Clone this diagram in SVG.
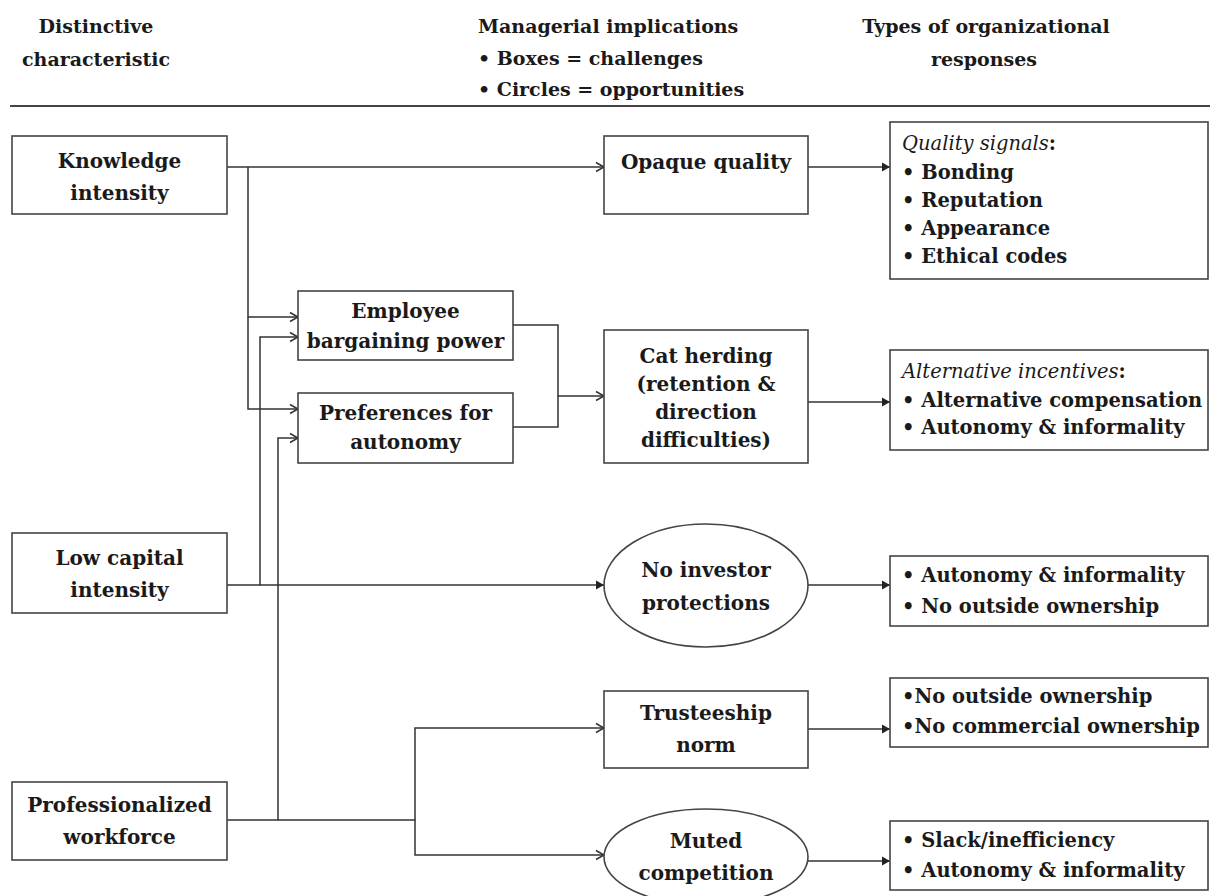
<svg xmlns="http://www.w3.org/2000/svg" width="1214" height="896" viewBox="0 0 1214 896">
<defs>
<style>
text{font-family:"DejaVu Serif","Liberation Serif",serif;font-weight:bold;fill:#1a1a1a;font-size:20px}
.h{font-size:19px}
.r{font-size:19.5px}
.c{text-anchor:middle}
.box{fill:#fff;stroke:#444;stroke-width:1.6}
.conn path{fill:none;stroke:#333;stroke-width:1.5}
.it{font-style:italic;font-weight:normal}
</style>
<marker id="open" markerWidth="12" markerHeight="12" refX="10" refY="6" orient="auto" markerUnits="userSpaceOnUse"><path d="M2,1.5 L10,6 L2,10.5" fill="none" stroke="#333" stroke-width="1.5"/></marker>
<marker id="fill" markerWidth="12" markerHeight="12" refX="10" refY="6" orient="auto" markerUnits="userSpaceOnUse"><path d="M2,1.5 L10,6 L2,10.5 Z" fill="#222"/></marker>
</defs>
<rect width="1214" height="896" fill="#fff"/>
<g id="headers">
<text class="c h" x="96" y="33">Distinctive</text>
<text class="c h" x="96" y="66">characteristic</text>
<text class="h" x="478" y="33">Managerial implications</text>
<text class="h" x="478" y="65">• Boxes = challenges</text>
<text class="h" x="478" y="96">• Circles = opportunities</text>
<text class="c h" x="986" y="33">Types of organizational</text>
<text class="c h" x="984" y="66">responses</text>
<line x1="10" y1="106" x2="1210" y2="106" stroke="#444" stroke-width="2"/>
</g>
<g class="conn" id="connectors">
<path d="M227,167 H604" marker-end="url(#open)"/>
<path d="M248,167 V317 H298" marker-end="url(#open)"/>
<path d="M248,317 V409 H298" marker-end="url(#open)"/>
<path d="M227,585 H260 V337 H298" marker-end="url(#open)"/>
<path d="M260,585 H604" marker-end="url(#fill)"/>
<path d="M227,820 H278 V438 H298" marker-end="url(#open)"/>
<path d="M278,820 H415 V728 H604" marker-end="url(#open)"/>
<path d="M415,820 V855 H604" marker-end="url(#open)"/>
<path d="M513,325 H558 V396 H604" marker-end="url(#open)"/>
<path d="M513,427 H558 V396"/>
<path d="M808,167 H890" marker-end="url(#fill)"/>
<path d="M808,402 H890" marker-end="url(#fill)"/>
<path d="M808,585 H890" marker-end="url(#fill)"/>
<path d="M808,729 H890" marker-end="url(#fill)"/>
<path d="M808,861 H890" marker-end="url(#fill)"/>
</g>
<g id="knowledge">
<rect class="box" x="12" y="136" width="215" height="78"/>
<text class="c" x="119.5" y="168">Knowledge</text>
<text class="c" x="119.5" y="200">intensity</text>
</g>
<g id="lowcapital">
<rect class="box" x="12" y="533" width="215" height="80"/>
<text class="c" x="119.5" y="565">Low capital</text>
<text class="c" x="119.5" y="597">intensity</text>
</g>
<g id="professionalized">
<rect class="box" x="12" y="782" width="215" height="78"/>
<text class="c" x="119.5" y="812">Professionalized</text>
<text class="c" x="119.5" y="844">workforce</text>
</g>
<g id="employee">
<rect class="box" x="298" y="291" width="215" height="69"/>
<text class="c" x="405.5" y="318">Employee</text>
<text class="c" x="405.5" y="348">bargaining power</text>
</g>
<g id="preferences">
<rect class="box" x="298" y="393" width="215" height="70"/>
<text class="c" x="405.5" y="420">Preferences for</text>
<text class="c" x="405.5" y="449">autonomy</text>
</g>
<g id="opaque">
<rect class="box" x="604" y="136" width="204" height="78"/>
<text class="c" x="706" y="169">Opaque quality</text>
</g>
<g id="catherding">
<rect class="box" x="604" y="330" width="204" height="133"/>
<text class="c" x="706" y="363">Cat herding</text>
<text class="c" x="706" y="391">(retention &amp;</text>
<text class="c" x="706" y="419">direction</text>
<text class="c" x="706" y="447">difficulties)</text>
</g>
<g id="noinvestor">
<ellipse class="box" cx="706" cy="585.5" rx="102" ry="61.5"/>
<text class="c" x="706" y="577">No investor</text>
<text class="c" x="706" y="610">protections</text>
</g>
<g id="trusteeship">
<rect class="box" x="604" y="691" width="204" height="77"/>
<text class="c" x="706" y="720">Trusteeship</text>
<text class="c" x="706" y="752">norm</text>
</g>
<g id="muted">
<ellipse class="box" cx="706" cy="857" rx="102" ry="48"/>
<text class="c" x="706" y="848">Muted</text>
<text class="c" x="706" y="880">competition</text>
</g>
<g id="qualitysignals">
<rect class="box" x="890" y="122" width="318" height="157"/>
<text class="r" x="902" y="150"><tspan class="it">Quality signals</tspan>:</text>
<text class="r" x="902" y="179">• Bonding</text>
<text class="r" x="902" y="207">• Reputation</text>
<text class="r" x="902" y="235">• Appearance</text>
<text class="r" x="902" y="263">• Ethical codes</text>
</g>
<g id="altincentives">
<rect class="box" x="890" y="350" width="318" height="100"/>
<text class="r" x="902" y="378"><tspan class="it">Alternative incentives</tspan>:</text>
<text class="r" x="902" y="407">• Alternative compensation</text>
<text class="r" x="902" y="434">• Autonomy &amp; informality</text>
</g>
<g id="resp3">
<rect class="box" x="890" y="556" width="318" height="70"/>
<text class="r" x="902" y="582">• Autonomy &amp; informality</text>
<text class="r" x="902" y="613">• No outside ownership</text>
</g>
<g id="resp4">
<rect class="box" x="890" y="678" width="318" height="69"/>
<text class="r" x="902" y="703">•No outside ownership</text>
<text class="r" x="902" y="733">•No commercial ownership</text>
</g>
<g id="resp5">
<rect class="box" x="890" y="821" width="318" height="69"/>
<text class="r" x="902" y="847">• Slack/inefficiency</text>
<text class="r" x="902" y="877">• Autonomy &amp; informality</text>
</g>
</svg>
